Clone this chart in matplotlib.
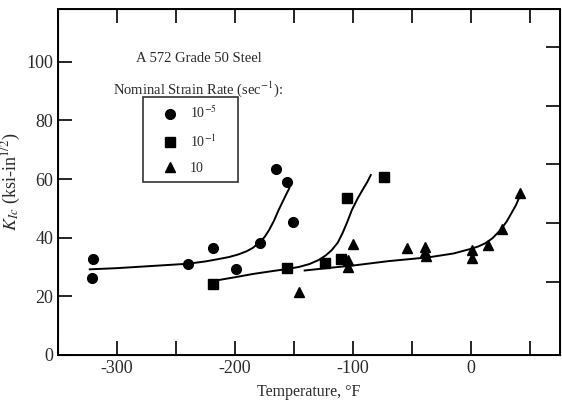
import matplotlib
matplotlib.use("Agg")
import matplotlib.pyplot as plt
from matplotlib.lines import Line2D

plt.rcParams["font.family"] = ["Liberation Serif", "DejaVu Serif"]
plt.rcParams["mathtext.fontset"] = "stix"

TEXT_COLOR = "#2a2a2a"

# 測定点 (温度 [°F], K_Ic [ksi-in^1/2])
rate_labels = ["10$^{-5}$", "10$^{-1}$", "10"]

circle_temp = [-320, -321, -240, -219, -199, -179, -165, -156, -151]
circle_k = [32.8, 26.3, 31.0, 36.6, 29.4, 38.3, 63.4, 59.0, 45.4]

square_temp = [-219, -156, -124, -110, -105, -74]
square_k = [24.1, 29.8, 31.4, 32.8, 53.5, 60.8]

triangle_temp = [-146, -104, -104, -100, -54, -39, -39, -38, 1, 1, 14, 26, 41]
triangle_k = [21.3, 32.4, 30.1, 37.8, 36.4, 36.7, 35.0, 33.6, 35.8, 33.0, 37.5, 42.9, 55.4]

# 図から読み取った近似曲線の点
circle_curve_temp = [-323, -300, -280, -260, -240, -225, -214, -205, -197, -190,
                     -185, -180, -175, -171, -167, -163, -160, -157, -154]
circle_curve_k = [29.2, 29.6, 30.1, 30.6, 31.1, 31.9, 32.7, 33.4, 34.3, 35.4,
                  36.5, 38.1, 40.2, 42.7, 45.8, 49.5, 52.0, 54.5, 56.9]

square_curve_temp = [-216, -200, -185, -170, -156, -146, -137, -129, -123, -118,
                     -113, -109, -105, -101, -96, -92, -88, -85]
square_curve_k = [25.4, 26.5, 27.6, 28.5, 29.3, 30.0, 31.0, 32.4, 34.0, 35.8,
                  38.3, 41.5, 45.3, 49.5, 53.5, 56.3, 59.0, 61.4]

triangle_curve_temp = [-141, -120, -100, -70, -36, -15, -2, 6, 12, 18, 25, 30, 34, 38, 41]
triangle_curve_k = [28.8, 29.7, 30.5, 32.0, 33.3, 34.6, 36.0, 37.0, 38.1, 39.8,
                    42.7, 45.5, 48.3, 51.2, 54.0]

x_ticks = [-350, -300, -250, -200, -150, -100, -50, 0, 50]
x_labels = ["", "-300", "", "-200", "", "-100", "", "0", ""]
y_ticks = [0, 20, 40, 60, 80, 100]
right_ticks = [25, 45, 65, 85, 105]


def style_ticks(ax):
    ax.tick_params(direction="in", length=10, width=1.2, colors="black",
                   labelcolor=TEXT_COLOR, labelsize=13)


fig = plt.figure(figsize=(5.62, 4.17), dpi=100)
ax = fig.add_axes([0.103, 0.149, 0.893, 0.829])

ax.plot(circle_curve_temp, circle_curve_k, color="black", lw=1.4)
ax.plot(square_curve_temp, square_curve_k, color="black", lw=1.4)
ax.plot(triangle_curve_temp, triangle_curve_k, color="black", lw=1.4)

ax.plot(circle_temp, circle_k, "o", color="black", ms=7, ls="none")
ax.plot(square_temp, square_k, "s", color="black", ms=6.5, ls="none")
ax.plot(triangle_temp, triangle_k, "^", color="black", ms=7, ls="none")

ax.set_xlim(-350, 75)
ax.set_ylim(0, 118)
ax.set_xticks(x_ticks)
ax.set_xticklabels(x_labels)
ax.set_yticks(y_ticks)
style_ticks(ax)
ax.tick_params(top=True, labeltop=False)
for s in ax.spines.values():
    s.set_linewidth(1.4)

# 右側の目盛りは元図でずれているのでそのまま再現
ax2 = ax.twinx()
ax2.set_ylim(0, 118)
ax2.set_yticks(right_ticks)
ax2.set_yticklabels([])
style_ticks(ax2)

ax.set_xlabel("Temperature, °F", fontsize=11.5, color=TEXT_COLOR, labelpad=5)
ax.set_ylabel("$K_{Ic}$ (ksi-in$^{1/2}$)", fontsize=13, color=TEXT_COLOR, labelpad=2)

ax.text(-231, 101, "A 572 Grade 50 Steel", fontsize=10.5, color=TEXT_COLOR,
        ha="center", va="center")
ax.text(-231, 90.8, "Nominal Strain Rate (sec$^{-1}$):", fontsize=10.5,
        color=TEXT_COLOR, ha="center", va="center")

handles = [
    Line2D([], [], marker="o", color="black", ls="none", ms=7),
    Line2D([], [], marker="s", color="black", ls="none", ms=6.5),
    Line2D([], [], marker="^", color="black", ls="none", ms=7),
]
leg = ax.legend(handles, rate_labels, loc="upper left",
                bbox_to_anchor=(0.169, 0.545, 0.19, 0.2), mode="expand",
                fontsize=10, frameon=True, fancybox=False, edgecolor="black",
                handlelength=2.8, handletextpad=0.05, labelspacing=0.85,
                borderpad=0.55, borderaxespad=0)
leg.get_frame().set_linewidth(1.2)
for t in leg.get_texts():
    t.set_color(TEXT_COLOR)

fig.savefig("out.png", dpi=100)
